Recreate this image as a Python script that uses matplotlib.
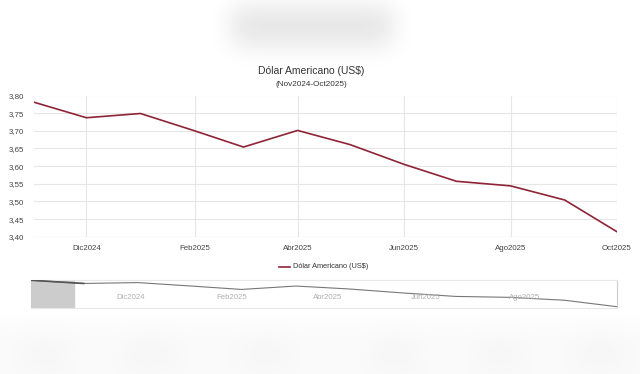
import datetime as dt
import numpy as np
import matplotlib
matplotlib.use("Agg")
import matplotlib.pyplot as plt
import matplotlib.dates as mdates
from matplotlib.ticker import FuncFormatter, MultipleLocator

# ---- data ----
months = ["2024-11-01", "2024-12-01", "2025-01-01", "2025-02-01", "2025-03-01", "2025-04-01",
          "2025-05-01", "2025-06-01", "2025-07-01", "2025-08-01", "2025-09-01", "2025-10-01"]
values = [3.781, 3.737, 3.749, 3.700, 3.654, 3.701, 3.661, 3.605, 3.557, 3.544, 3.504, 3.414]
tick_months = ["2024-12-01", "2025-02-01", "2025-04-01", "2025-06-01", "2025-08-01", "2025-10-01"]
tick_labels = ["Dic2024", "Feb2025", "Abr2025", "Jun2025", "Ago2025", "Oct2025"]
title = "Dólar Americano (US$)"
subtitle = "(Nov2024-Oct2025)"

dates = [dt.datetime.strptime(m, "%Y-%m-%d") for m in months]
tdates = [dt.datetime.strptime(m, "%Y-%m-%d") for m in tick_months]
xd = mdates.date2num(dates)
td = mdates.date2num(tdates)

plt.rcParams['font.family'] = ['Liberation Sans', 'DejaVu Sans']
W, H = 640, 374
fig = plt.figure(figsize=(W / 100, H / 100), dpi=100)
fig.patch.set_facecolor("white")

LINE = "#8E2436"

def fx(px):
    return px / W

def fy(py):
    return 1 - py / H

# ---- blurred decorations ----
def blur(img, s):
    k = np.exp(-0.5 * (np.arange(-3 * s, 3 * s + 1) / s) ** 2)
    k /= k.sum()
    pad = 3 * s
    im = np.pad(img, pad, mode="edge")
    im = np.apply_along_axis(lambda r: np.convolve(r, k, mode="same"), 1, im)
    im = np.apply_along_axis(lambda c: np.convolve(c, k, mode="same"), 0, im)
    return im[pad:-pad, pad:-pad]

bg = fig.add_axes([0, 0, 1, 1], zorder=-5)
bg.set_xlim(0, W)
bg.set_ylim(H, 0)
bg.axis("off")
img = np.ones((H, W))
img[6:46, 232:392] = 0.90
img[322:374, :] = 0.978
for cx, w in [(45, 40), (150, 50), (265, 45), (395, 45), (500, 40), (600, 45)]:
    img[338:370, cx - w // 2: cx + w // 2] = 0.962
img = blur(img, 12)
bg.imshow(img, cmap="gray", vmin=0, vmax=1, extent=(0, W, H, 0), aspect="auto", interpolation="bilinear")

# ---- titles ----
fig.text(fx(311), fy(70.5), title, ha="center", va="center", fontsize=7.5, color="#333333")
fig.text(fx(311), fy(85), subtitle, ha="center", va="center", fontsize=5.9, color="#333333")

# ---- main axes ----
x0, x1 = 34, 617
y_top, y_bot = 95.5, 236.7
ax = fig.add_axes([fx(x0), fy(y_bot), (x1 - x0) / W, (y_bot - y_top) / H])
ax.plot(xd, values, color=LINE, lw=1.2, solid_joinstyle="miter", zorder=3)
ax.set_xlim(xd[0], xd[-1])
ax.set_ylim(3.40, 3.80)
ax.yaxis.set_major_locator(MultipleLocator(0.05))
ax.yaxis.set_major_formatter(FuncFormatter(lambda v, p: f"{v:.2f}".replace(".", ",")))
ax.set_xticks(td)
ax.set_xticklabels(tick_labels)
ax.grid(True, color="#e6e6e6", lw=0.8)
for s in ax.spines.values():
    s.set_visible(False)
ax.tick_params(axis="both", length=0, labelsize=5.7, colors="#444444")
ax.tick_params(axis="x", pad=6)
ax.tick_params(axis="y", pad=7)
ax.axhline(3.40, color="#d8d8d8", lw=0.8, zorder=2)

# ---- legend ----
fig.lines.append(plt.Line2D([fx(279), fx(290)], [fy(266.5), fy(266.5)], color=LINE, lw=1.2, transform=fig.transFigure))
fig.text(fx(293), fy(266.5), title, ha="left", va="center", fontsize=5.3, color="#333333")

# ---- navigator ----
n0, n1 = 31, 617
nt, nb = 279.5, 307.5
nav = fig.add_axes([fx(n0), fy(nb), (n1 - n0) / W, (nb - nt) / H])
nav.plot(xd, values, color="#777777", lw=0.8, zorder=3)
nav.plot(xd[:2], values[:2], color="#555555", lw=1.2, zorder=4)
nav.set_xlim(xd[0], xd[-1])
vr = max(values) - min(values)
nav.set_ylim(min(values) - 0.03 * vr, max(values) + 0.03 * vr)
nav.axvspan(xd[0], xd[0] + (xd[1] - xd[0]) * 0.82, color="#cccccc", zorder=2)
nav.set_yticks([])
nav.set_xticks([])
for s in ["left", "right"]:
    nav.spines[s].set_color("#cccccc")
    nav.spines[s].set_linewidth(0.8)
for s in ["top", "bottom"]:
    nav.spines[s].set_color("#e8e8e8")
    nav.spines[s].set_linewidth(0.8)
nav.patch.set_alpha(0)

# navigator labels (own date scale of the navigator axis)
navx = nav.twiny()
px_per_day = (525 - 131) / (td[4] - td[0])
left = td[0] - (131 - n0) / px_per_day
navx.set_xlim(left, left + (n1 - n0) / px_per_day)
navx.xaxis.set_ticks_position("bottom")
navx.set_xticks(td[:-1])
navx.set_xticklabels(tick_labels[:-1])
navx.tick_params(axis="x", length=0, labelsize=5.6, colors="#b0b0b0", pad=-10)
for s in navx.spines.values():
    s.set_visible(False)

fig.savefig("out.png", dpi=100, facecolor="white")
